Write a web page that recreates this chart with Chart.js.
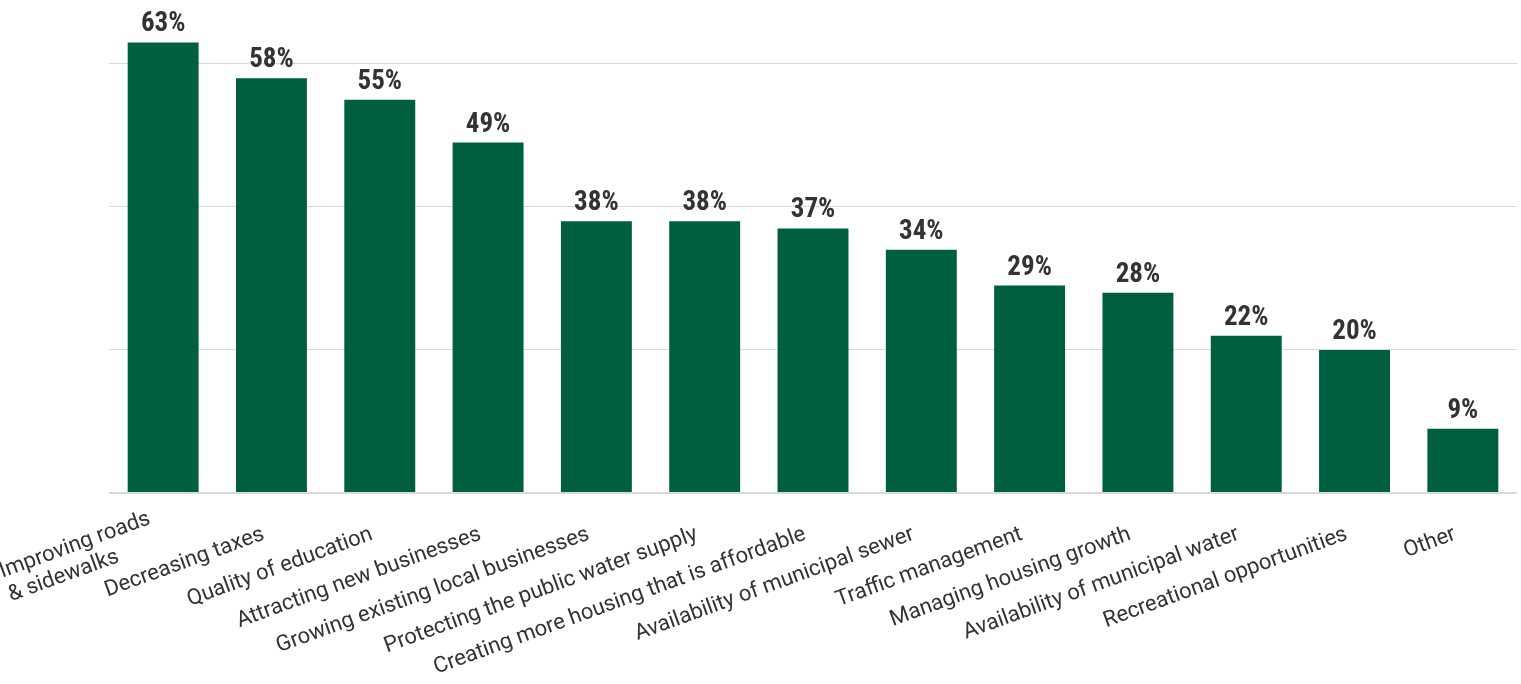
<!DOCTYPE html>
<html>
<head>
<meta charset="utf-8">
<script src="https://cdn.jsdelivr.net/npm/chart.js@4/dist/chart.umd.min.js"></script>
<style>
  html, body { margin: 0; padding: 0; background: #ffffff; }
  #wrap { position: relative; width: 1521px; height: 684px; }
</style>
</head>
<body>
<div id="wrap"><canvas id="chart"></canvas></div>
<script>
// Community priorities, share of respondents (%)
const categories = [
  ['Improving roads', '& sidewalks'],
  'Decreasing taxes',
  'Quality of education',
  'Attracting new businesses',
  'Growing existing local businesses',
  'Protecting the public water supply',
  'Creating more housing that is affordable',
  'Availability of municipal sewer',
  'Traffic management',
  'Managing housing growth',
  'Availability of municipal water',
  'Recreational opportunities',
  'Other'
];
const shares = [63, 58, 55, 49, 38, 38, 37, 34, 29, 28, 22, 20, 9];
const gridSteps = [0, 20, 40, 60];

const BAR_GREEN = '#005f41';
const TEXT_DARK = '#333333';
const LABEL_ANGLE = 20;      // degrees, category labels rise to the right
const LABEL_LINE = 25;       // line spacing for wrapped category labels

// Bold value labels above every bar
const valueLabels = {
  id: 'valueLabels',
  afterDatasetsDraw(chart) {
    const ctx = chart.ctx;
    const meta = chart.getDatasetMeta(0);
    ctx.save();
    ctx.fillStyle = TEXT_DARK;
    ctx.font = 'bold 27px "Roboto Condensed", Roboto, sans-serif';
    ctx.textAlign = 'center';
    ctx.textBaseline = 'alphabetic';
    meta.data.forEach((bar, i) => {
      ctx.fillText(chart.data.datasets[0].data[i] + '%', bar.x, bar.y - 11);
    });
    ctx.restore();
  }
};

// Slanted category labels: the text block ends at its tick, wrapped lines
// share a common left edge and sit slightly above the single-line baseline
const slantedLabels = {
  id: 'slantedLabels',
  afterDraw(chart) {
    const ctx = chart.ctx;
    const xs = chart.scales.x;
    const labels = chart.data.labels;
    ctx.save();
    ctx.fillStyle = TEXT_DARK;
    ctx.font = '22px Roboto, sans-serif';
    ctx.textAlign = 'left';
    ctx.textBaseline = 'alphabetic';
    labels.forEach((lab, i) => {
      const lines = Array.isArray(lab) ? lab : [lab];
      const n = lines.length;
      const blockW = Math.max(...lines.map((ln) => ctx.measureText(ln).width));
      const px = xs.getPixelForTick(i);
      ctx.save();
      ctx.translate(px - 6, xs.top + 46);
      ctx.rotate(-LABEL_ANGLE * Math.PI / 180);
      lines.forEach((ln, j) => {
        const y = (j - (n - 1) / 2) * LABEL_LINE - (n - 1) * 4;
        ctx.fillText(ln, -blockW, y);
      });
      ctx.restore();
    });
    ctx.restore();
  }
};

new Chart(document.getElementById('chart'), {
  type: 'bar',
  data: {
    labels: categories,
    datasets: [{
      data: shares,
      backgroundColor: BAR_GREEN,
      borderWidth: 0,
      categoryPercentage: 0.655,
      barPercentage: 1.0
    }]
  },
  options: {
    responsive: true,
    maintainAspectRatio: false,
    animation: false,
    devicePixelRatio: 1,
    layout: { padding: { top: 21, right: 4, left: 0, bottom: 0 } },
    plugins: {
      legend: { display: false },
      tooltip: { enabled: false }
    },
    scales: {
      x: {
        grid: { display: false },
        border: { display: false },
        ticks: { display: false, autoSkip: false },
        afterFit(scale) {
          scale.height = 191;
          scale.paddingLeft = 0;
          scale.paddingRight = 0;
        }
      },
      y: {
        min: 0,
        max: 66,
        ticks: { display: false, stepSize: 20 },
        border: { display: false },
        grid: {
          color: (c) => gridSteps.includes(c.tick.value) ? '#d9d9d9' : 'rgba(0,0,0,0)',
          lineWidth: (c) => c.tick.value === 0 ? 2 : 1,
          drawTicks: false
        },
        afterFit(scale) {
          scale.width = 109;
        }
      }
    }
  },
  plugins: [valueLabels, slantedLabels]
});
</script>
</body>
</html>
